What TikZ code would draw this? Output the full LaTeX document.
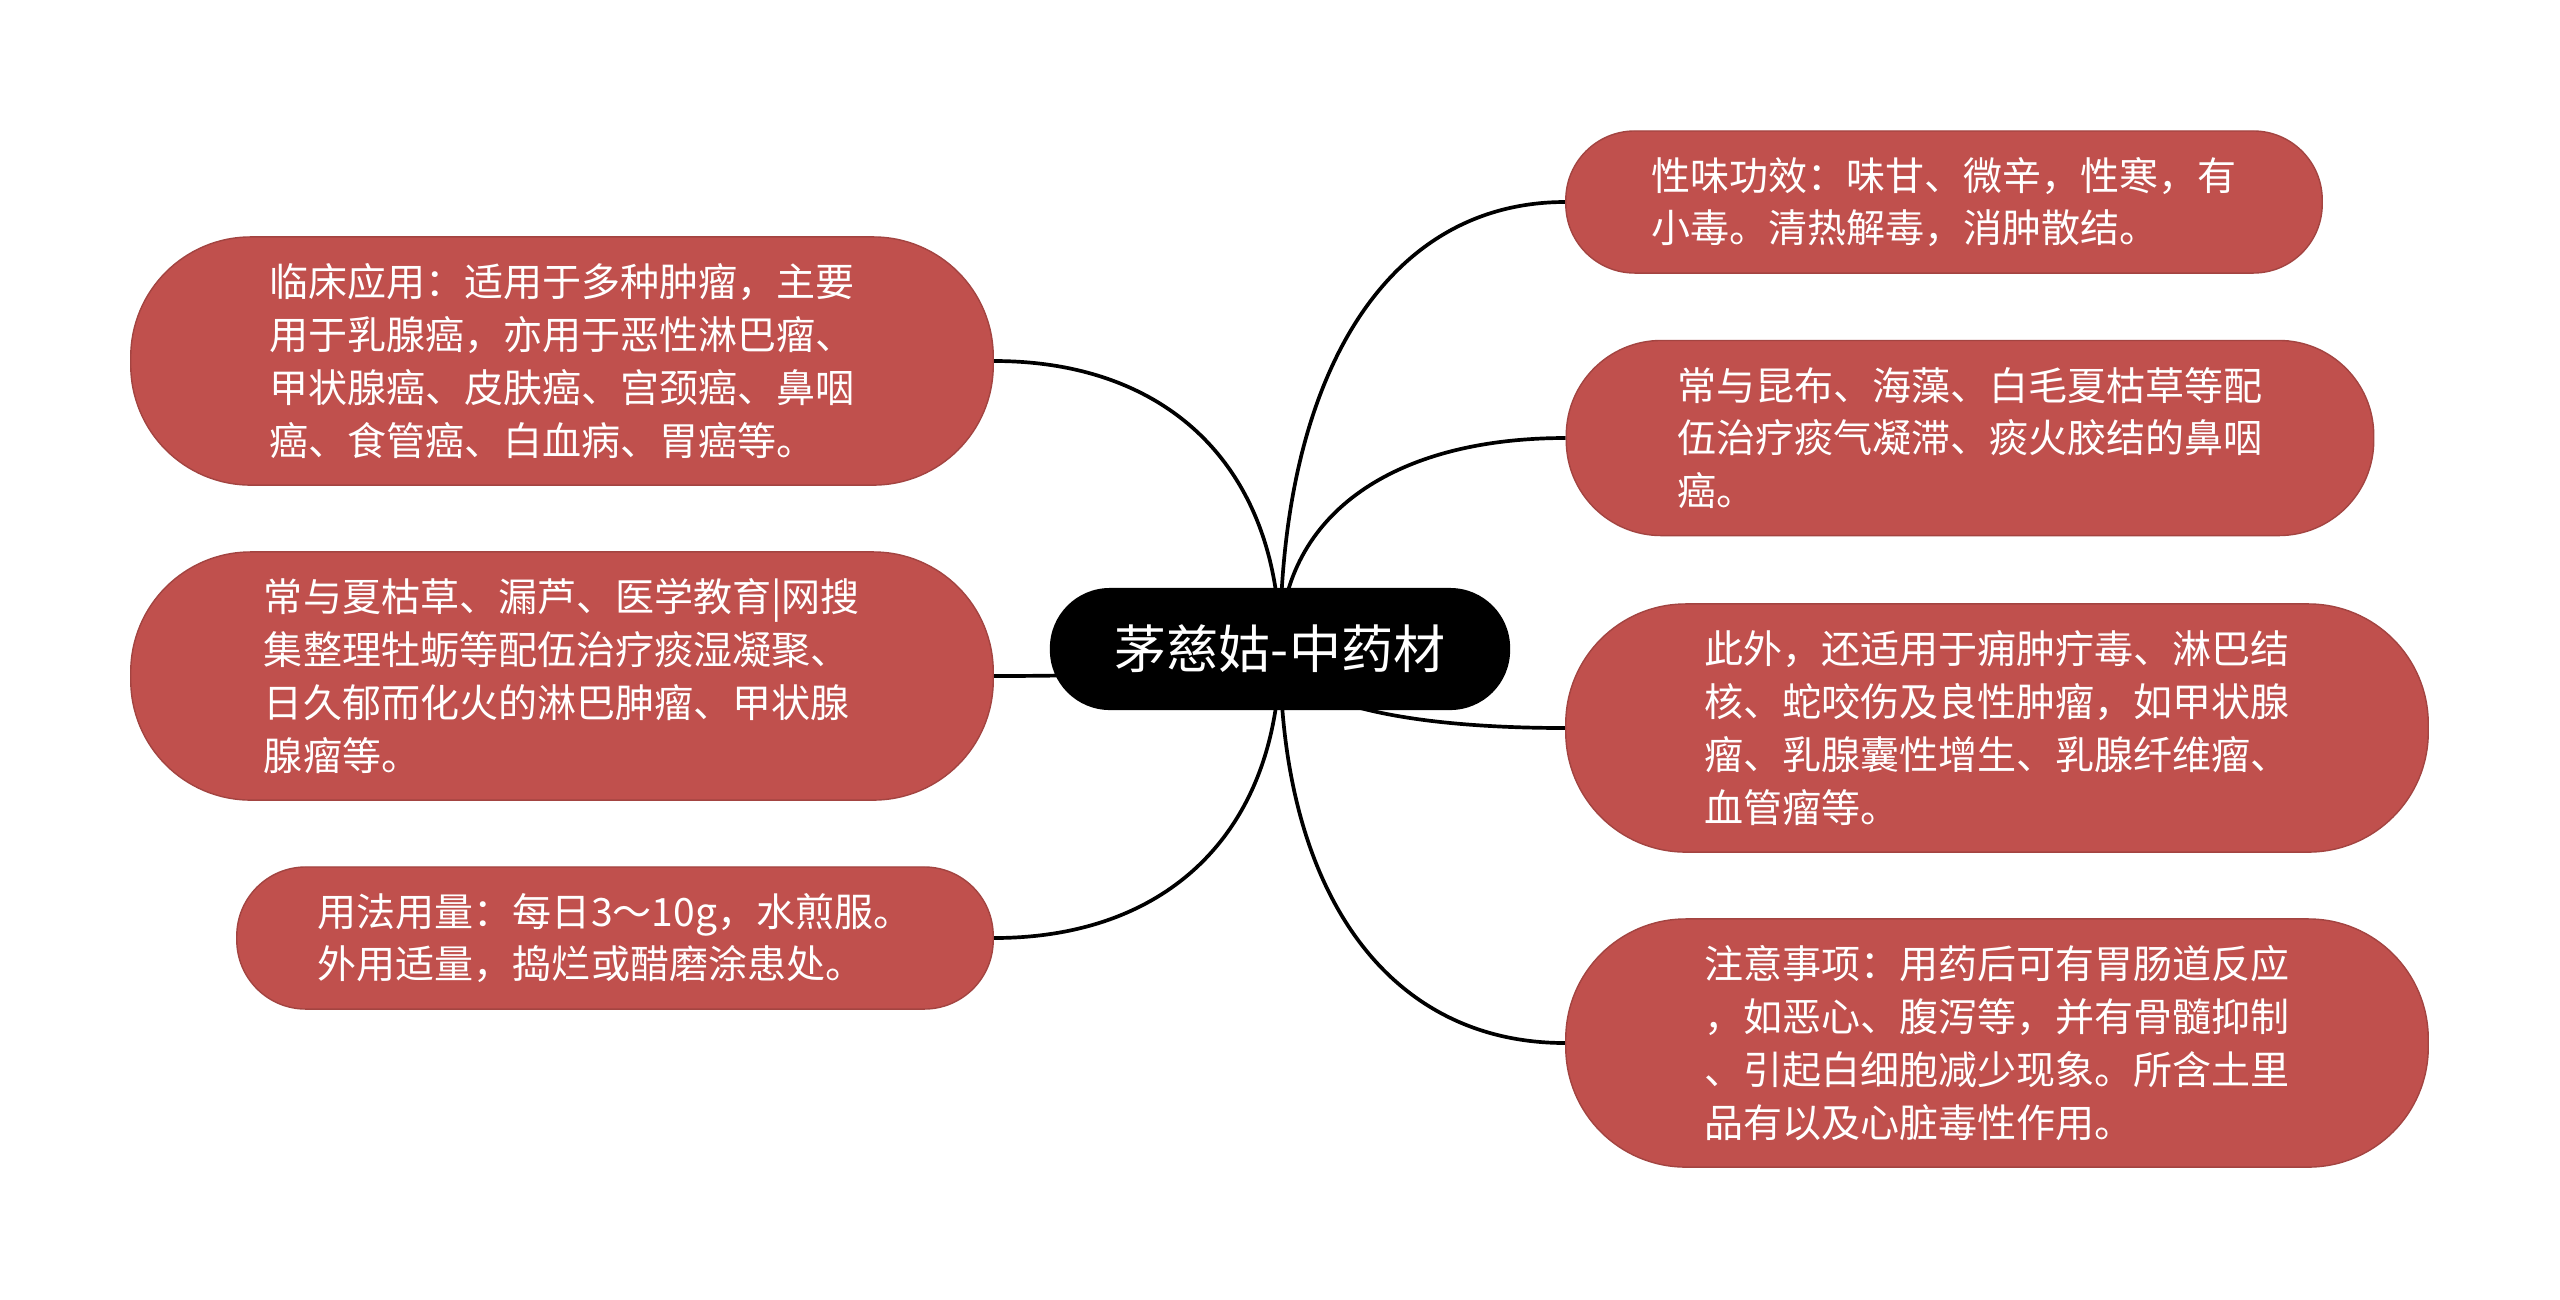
\documentclass[tikz,border=0pt]{standalone}
\usepackage{fontspec}
\setmainfont{Noto Sans CJK SC}
\usetikzlibrary{backgrounds,calc}
\definecolor{leafred}{HTML}{C0504D}

\begin{document}
\begin{tikzpicture}[x=.01cm,y=-.01cm,
 leaf/.style={fill=leafred,draw=leafred!85!black,line width=.4pt,text=white,align=left,inner sep=0pt,
  font=\fontsize{11.1pt}{15pt}\selectfont},
 big/.style={minimum width=8.62cm,minimum height=2.48cm,rounded corners=1.2cm},
 mid/.style={minimum width=8.07cm,minimum height=1.95cm,rounded corners=.95cm},
 small/.style={minimum width=7.56cm,minimum height=1.42cm,rounded corners=.69cm},
 root/.style={fill=black,text=white,rounded corners=.6cm,minimum width=4.6cm,minimum height=1.22cm,
  inner sep=0pt,font=\fontsize{14.8pt}{18pt}\selectfont},
 link/.style={line width=1.05pt}]
 \useasboundingbox (0,0) rectangle (2560,1299);
 \node[root] (c) at (1280,649) {茅慈姑-中药材};
 \node[leaf,big] (l1) at (562,361)
   {临床应用：适用于多种肿瘤，主要\\用于乳腺癌，亦用于恶性淋巴瘤、\\甲状腺癌、皮肤癌、宫颈癌、鼻咽\\癌、食管癌、白血病、胃癌等。};
 \node[leaf,big] (l2) at (562,676)
   {常与夏枯草、漏芦、医学教育|网搜\\集整理牡蛎等配伍治疗痰湿凝聚、\\日久郁而化火的淋巴胂瘤、甲状腺\\腺瘤等。};
 \node[leaf,small] (l3) at (615,938)
   {用法用量：每日3～10g，水煎服。\\外用适量，捣烂或醋磨涂患处。};
 \node[leaf,small] (r1) at (1944,202)
   {性味功效：味甘、微辛，性寒，有\\小毒。清热解毒，消肿散结。};
 \node[leaf,mid] (r2) at (1970,438)
   {常与昆布、海藻、白毛夏枯草等配\\伍治疗痰气凝滞、痰火胶结的鼻咽\\癌。};
 \node[leaf,big] (r3) at (1997,728)
   {此外，还适用于痈肿疔毒、淋巴结\\核、蛇咬伤及良性肿瘤，如甲状腺\\瘤、乳腺囊性增生、乳腺纤维瘤、\\血管瘤等。};
 \node[leaf,big] (r4) at (1997,1043)
   {注意事项：用药后可有胃肠道反应\\，如恶心、腹泻等，并有骨髓抑制\\、引起白细胞减少现象。所含土里\\品有以及心脏毒性作用。};
 \begin{pgfonlayer}{background}
  \fill[white] (0,0) rectangle (2560,1299);
  \foreach \n in {l1,l2,l3}
   \draw[link] (c.center) .. controls ($(c.center)!.62!(c.center |- \n.east)$)
     and ($(\n.east)!.62!(c.center |- \n.east)$) .. (\n.east);
  \foreach \n in {r1,r2,r3,r4}
   \draw[link] (c.center) .. controls ($(c.center)!.62!(c.center |- \n.west)$)
     and ($(\n.west)!.62!(c.center |- \n.west)$) .. (\n.west);
 \end{pgfonlayer}
\end{tikzpicture}
\end{document}
